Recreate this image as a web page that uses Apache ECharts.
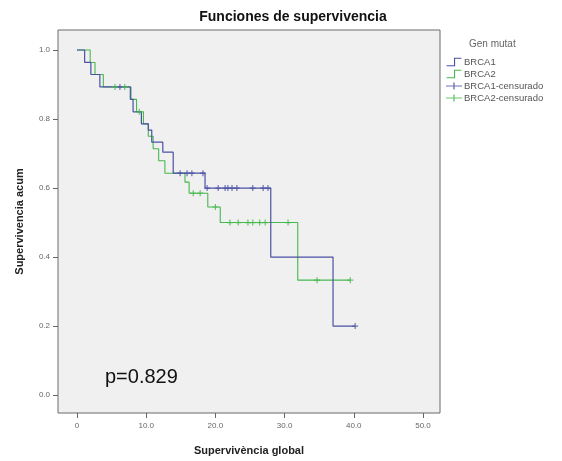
<!DOCTYPE html>
<html><head><meta charset="utf-8">
<script src="https://cdn.jsdelivr.net/npm/echarts@6/dist/echarts.min.js"></script>
<style>html,body{margin:0;padding:0;background:#fff}#c{width:562px;height:461px}</style>
</head><body><div id="c"></div>
<script>
// Kaplan-Meier step data (time, survival after event)
const blueTime = [0, 1.1, 2.0, 3.3, 7.7, 8.1, 9.3, 10.3, 10.8, 12.4, 13.9, 18.5, 28.0, 37.0, 40.2];
const blueSurv = [1.0, 0.964, 0.929, 0.893, 0.857, 0.821, 0.786, 0.768, 0.733, 0.704, 0.643, 0.600, 0.400, 0.200, 0.200];
const greenTime = [0, 1.9, 2.6, 3.8, 7.8, 8.6, 9.6, 10.3, 11.0, 11.8, 12.7, 15.6, 16.2, 18.9, 20.7, 31.9, 39.5];
const greenSurv = [1.0, 0.964, 0.929, 0.893, 0.857, 0.821, 0.786, 0.75, 0.714, 0.679, 0.643, 0.617, 0.585, 0.545, 0.50, 0.333, 0.333];
// censored observations
const blueCensTime = [6.2, 14.9, 15.9, 16.6, 18.2, 18.8, 20.4, 21.4, 21.8, 22.4, 23.1, 25.4, 26.9, 27.6, 40.2];
const blueCensSurv = [0.893, 0.643, 0.643, 0.643, 0.643, 0.600, 0.600, 0.600, 0.600, 0.600, 0.600, 0.600, 0.600, 0.600, 0.200];
const greenCensTime = [5.5, 6.9, 9.0, 16.8, 17.8, 20.0, 22.1, 23.3, 24.7, 25.4, 26.4, 27.2, 30.5, 34.7, 39.5];
const greenCensSurv = [0.893, 0.893, 0.821, 0.585, 0.585, 0.545, 0.50, 0.50, 0.50, 0.50, 0.50, 0.50, 0.50, 0.333, 0.333];
// axis ticks
const xTicks = [0, 10, 20, 30, 40, 50];
const xTickLabels = ['0', '10.0', '20.0', '30.0', '40.0', '50.0'];
const yTicks = [0, 0.2, 0.4, 0.6, 0.8, 1.0];
const yTickLabels = ['0.0', '0.2', '0.4', '0.6', '0.8', '1.0'];
const seriesNames = ['BRCA1', 'BRCA2', 'BRCA1-censurado', 'BRCA2-censurado'];

const BLUE = '#4b50a3', GREEN = '#45b84e';
const zip = (a, b) => a.map((v, i) => [v, b[i]]);
const plus = 'path://M4,0h2v4h4v2h-4v4h-2v-4h-4v-2h4z';
const FONT = '"Liberation Sans", Arial, sans-serif';

const chart = echarts.init(document.getElementById('c'), null, {renderer: 'canvas'});
chart.setOption({
  animation: false,
  backgroundColor: '#fff',
  grid: {left: 58, top: 30, width: 382, height: 383, show: true,
         backgroundColor: '#f0f0f0', borderColor: '#6a6a6a', borderWidth: 1},
  graphic: [
    {type: 'text', style: {text: 'Funciones de supervivencia', x: 293, y: 17,
      textAlign: 'center', textVerticalAlign: 'middle', font: 'bold 14px ' + FONT, fill: '#111'}},
    {type: 'text', style: {text: 'Gen mutat', x: 469, y: 44, textVerticalAlign: 'middle',
      font: '10px ' + FONT, fill: '#666'}},
    {type: 'text', style: {text: 'p=0.829', x: 105, y: 377, textVerticalAlign: 'middle',
      font: '20px ' + FONT, fill: '#111'}}
  ],
  legend: {
    orient: 'vertical', left: 446, top: 57, itemGap: 2, itemWidth: 16, itemHeight: 8.5,
    padding: 0, textStyle: {fontSize: 9.5, color: '#555', fontFamily: FONT, padding: [0,0,0,-3]},
    data: [
      {name: seriesNames[0], icon: 'path://M0,9h8v-8h8v1.2h-6.8v8h-9.2z', itemStyle: {color: BLUE}},
      {name: seriesNames[1], icon: 'path://M0,9h8v-8h8v1.2h-6.8v8h-9.2z', itemStyle: {color: GREEN}},
      {name: seriesNames[2], icon: 'path://M0,4.4h16v1.2h-16z M7.3,1.5h1.4v7h-1.4z', itemStyle: {color: BLUE}},
      {name: seriesNames[3], icon: 'path://M0,4.4h16v1.2h-16z M7.3,1.5h1.4v7h-1.4z', itemStyle: {color: GREEN}}
    ]
  },
  xAxis: {
    type: 'value', min: -2.75, max: 52.46,
    name: 'Supervivència global', nameLocation: 'middle', nameGap: 32,
    nameTextStyle: {fontWeight: 'bold', fontSize: 11, color: '#222', fontFamily: FONT},
    axisLine: {show: false, onZero: false}, splitLine: {show: false},
    axisTick: {show: true, length: 5, customValues: xTicks, lineStyle: {color: '#666'}},
    axisLabel: {customValues: xTicks, formatter: v => xTickLabels[xTicks.indexOf(Math.round(v))] ?? '',
      fontSize: 8, color: '#666', margin: 9, fontFamily: FONT}
  },
  yAxis: {
    type: 'value', min: -0.052, max: 1.058,
    name: 'Supervivencia acum', nameLocation: 'middle', nameGap: 33,
    nameTextStyle: {fontWeight: 'bold', fontSize: 11, color: '#222', fontFamily: FONT},
    axisLine: {show: false, onZero: false}, splitLine: {show: false},
    axisTick: {show: true, length: 5, customValues: yTicks, lineStyle: {color: '#666'}},
    axisLabel: {customValues: yTicks, formatter: v => yTickLabels[yTicks.indexOf(Math.round(v * 10) / 10)] ?? '',
      fontSize: 8, color: '#666', margin: 8, fontFamily: FONT}
  },
  series: [
    {name: seriesNames[0], type: 'line', step: 'end', data: zip(blueTime, blueSurv), showSymbol: false,
     lineStyle: {color: BLUE, width: 1.2}, itemStyle: {color: BLUE}, z: 3},
    {name: seriesNames[1], type: 'line', step: 'end', data: zip(greenTime, greenSurv), showSymbol: false,
     lineStyle: {color: GREEN, width: 1.1}, itemStyle: {color: GREEN}, z: 2},
    {name: seriesNames[2], type: 'scatter', data: zip(blueCensTime, blueCensSurv), symbol: plus, symbolSize: 6,
     itemStyle: {color: BLUE}, z: 4},
    {name: seriesNames[3], type: 'scatter', data: zip(greenCensTime, greenCensSurv), symbol: plus, symbolSize: 6,
     itemStyle: {color: GREEN}, z: 4}
  ]
});
</script></body></html>
